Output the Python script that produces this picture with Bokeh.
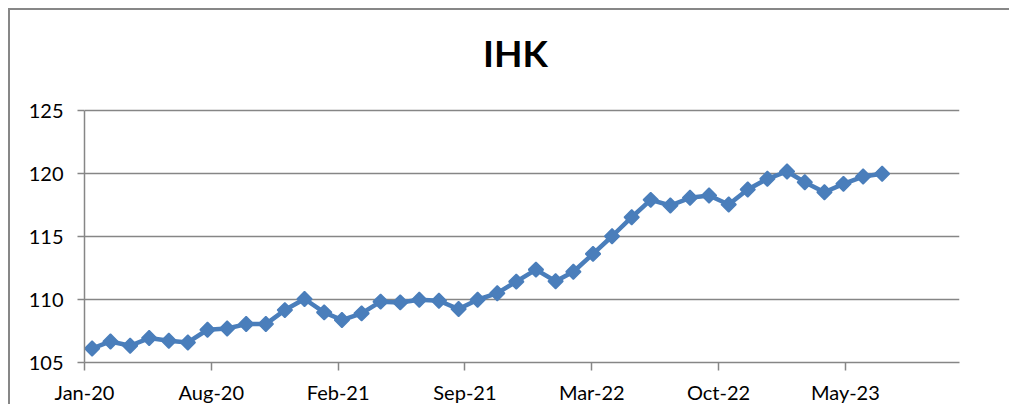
import numpy as np
import pandas as pd
from bokeh.plotting import figure
from bokeh.models import ColumnDataSource, FixedTicker, DatetimeTickFormatter, Range1d, Label
from bokeh.embed import file_html
from bokeh.resources import INLINE

# ---- data ----
title_text = "IHK"
month_ends = pd.date_range("2020-01-31", periods=42, freq="ME")
ihk = [106.11, 106.67, 106.33, 106.94, 106.72, 106.59, 107.60, 107.70, 108.05, 108.05,
       109.16, 110.04, 108.98, 108.37, 108.90, 109.83, 109.77, 109.98, 109.90, 109.24,
       109.98, 110.50, 111.42, 112.37, 111.45, 112.20, 113.62, 115.02, 116.53, 117.91,
       117.46, 118.07, 118.25, 117.54, 118.73, 119.58, 120.16, 119.31, 118.51, 119.18,
       119.76, 119.98]
y_ticks = [105, 110, 115, 120, 125]
x_tick_labels = ["Jan-20", "Aug-20", "Feb-21", "Sep-21", "Mar-22", "Oct-22", "May-23"]

# ---- axis layout (Excel-like date axis, major unit 200 days) ----
axis_start = pd.Timestamp("2020-01-19")
DAY_MS = 86400000.0
start_ms = axis_start.value / 1e6
tick_ms = [start_ms + k * 200 * DAY_MS for k in range(len(x_tick_labels))]
end_ms = start_ms + 1380 * DAY_MS

src = ColumnDataSource(dict(x=month_ends, y=ihk))

GRAY = "#868686"
BLUE = "#4A7EBB"
FONT = "Lato"

W, H = 1003, 396
ML, MR, MT, MB = 74, 54, 2, 44
frame_w = W - ML - MR
frame_h = H - MT - MB
px_per_unit = 252.0 / (y_ticks[-1] - y_ticks[0])   # plot area height of the reference
y_top = y_ticks[0] + frame_h / px_per_unit           # leave room above for the title

p = figure(width=W, height=H, output_backend="svg", toolbar_location=None,
           x_axis_type="datetime",
           x_range=Range1d(start_ms, end_ms), y_range=Range1d(y_ticks[0], y_top),
           styles={"margin-left": "10px", "margin-top": "10px",
                   "box-shadow": "-2px -2px 0px 0px #878787"})
p.min_border_left = ML
p.min_border_right = MR
p.min_border_top = MT
p.min_border_bottom = MB
p.outline_line_color = None
p.background_fill_color = "white"
p.border_fill_color = "white"

p.add_layout(Label(x=431, y=frame_h - 40, x_units="screen", y_units="screen",
                   text=title_text, text_align="center", text_baseline="alphabetic",
                   text_font=FONT, text_font_size="37px", text_font_style="bold",
                   text_color="black"))

p.line("x", "y", source=src, line_color=BLUE, line_width=4.5)
p.scatter("x", "y", source=src, marker="square", angle=np.pi / 4, size=10.5,
          fill_color=BLUE, line_color=BLUE, line_width=1.5)

# x axis
xa = p.xaxis[0]
xa.ticker = FixedTicker(ticks=tick_ms)
xa.formatter = DatetimeTickFormatter(years="%b-%y", months="%b-%y", days="%b-%y",
                                     hours="%b-%y", minutes="%b-%y", seconds="%b-%y",
                                     milliseconds="%b-%y", minsec="%b-%y", hourmin="%b-%y")
xa.axis_line_color = GRAY
xa.axis_line_width = 1.5
xa.major_tick_line_color = GRAY
xa.major_tick_line_width = 1.5
xa.major_tick_in = 0
xa.major_tick_out = 8
xa.minor_tick_line_color = None
xa.major_label_text_font = FONT
xa.major_label_text_font_size = "20px"
xa.major_label_text_color = "black"
xa.major_label_standoff = 9

# y axis
ya = p.yaxis[0]
ya.ticker = FixedTicker(ticks=y_ticks)
ya.bounds = (y_ticks[0], y_ticks[-1])
ya.axis_line_color = GRAY
ya.axis_line_width = 1.5
ya.major_tick_line_color = GRAY
ya.major_tick_line_width = 1.5
ya.major_tick_in = 0
ya.major_tick_out = 7
ya.minor_tick_line_color = None
ya.major_label_text_font = FONT
ya.major_label_text_font_size = "20px"
ya.major_label_text_color = "black"
ya.major_label_standoff = 14

p.xgrid.grid_line_color = None
p.ygrid.grid_line_color = GRAY
p.ygrid.grid_line_width = 1.5
p.ygrid.ticker = FixedTicker(ticks=y_ticks)

open("out.html", "w").write(file_html(p, INLINE))
